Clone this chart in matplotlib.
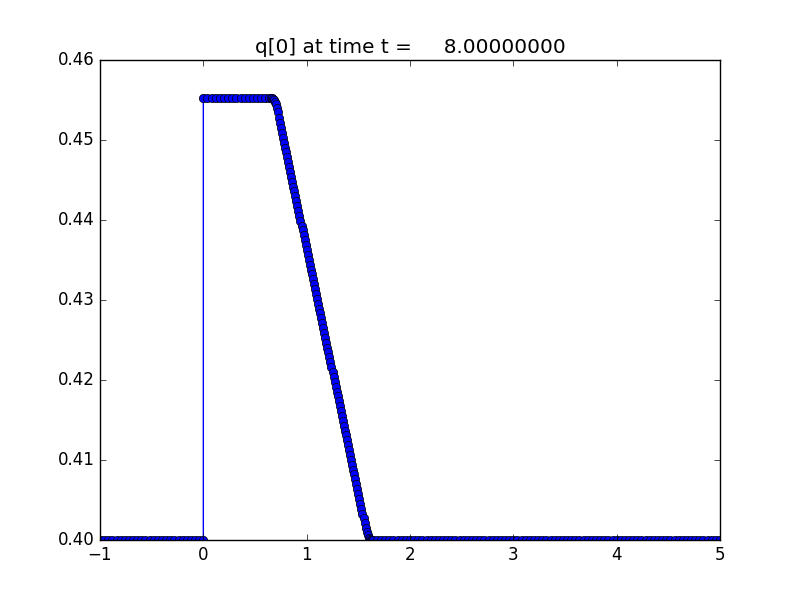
import numpy as np
import matplotlib
matplotlib.use('Agg')
import matplotlib.pyplot as plt

plt.style.use('classic')

# solution values
q_left = 0.4       # state for x < 0 and x past the wave
q_top = 0.4552     # plateau state after the jump at x = 0

# coarse grid (dx = 0.04)
x_left = np.round(np.arange(-1.0, 0.0001, 0.04), 4)
x_plateau = np.round(np.arange(0.0, 0.6401, 0.04), 4)
x_right = np.round(np.arange(1.64, 5.0001, 0.04), 4)

# refined patch over the ramp (dx = 0.01)
x_fine = np.round(np.arange(0.65, 1.6301, 0.01), 4)
q_fine = [
    0.4552, 0.4552, 0.4551, 0.4550, 0.4548, 0.4545, 0.4540, 0.4535, 0.4528, 0.4521,
    0.45150, 0.45089, 0.45028, 0.44967, 0.44906, 0.44845, 0.44784, 0.44723, 0.44662, 0.44601,
    0.44540, 0.44479, 0.44418, 0.44357, 0.44296, 0.44235, 0.44174, 0.44113, 0.44052, 0.43991,
    0.43930, 0.43869, 0.43808, 0.43747, 0.43686, 0.43625, 0.43564, 0.43503, 0.43442, 0.43381,
    0.43320, 0.43259, 0.43198, 0.43137, 0.43076, 0.43015, 0.42954, 0.42893, 0.42832, 0.42771,
    0.42710, 0.42649, 0.42588, 0.42527, 0.42466, 0.42405, 0.42344, 0.42283, 0.42222, 0.42161,
    0.42100, 0.42039, 0.41978, 0.41917, 0.41856, 0.41795, 0.41734, 0.41673, 0.41612, 0.41551,
    0.41490, 0.41429, 0.41368, 0.41307, 0.41246, 0.41185, 0.41124, 0.41063, 0.41002, 0.40941,
    0.40880, 0.40819, 0.40758, 0.40697, 0.40636, 0.40575, 0.40514, 0.40453, 0.40392, 0.40331,
    0.40270, 0.40210, 0.40150, 0.40100, 0.40060, 0.40030, 0.40010, 0.40000, 0.40000,
]

x = np.concatenate([x_left, x_plateau, x_fine, x_right])
q = np.concatenate([np.full(len(x_left), q_left), np.full(len(x_plateau), q_top),
                    q_fine, np.full(len(x_right), q_left)])

t = 8.0
fig = plt.figure(figsize=(8, 6), dpi=100)
ax = fig.add_subplot(1, 1, 1)
ax.plot(x, q, 'o-', color='b', markerfacecolor='b', markersize=6,
        markeredgecolor='k', markeredgewidth=0.5, linewidth=1.0)
ax.set_xlim(-1, 5)
ax.set_ylim(0.40, 0.46)
ax.set_yticks([0.40, 0.41, 0.42, 0.43, 0.44, 0.45, 0.46])
ax.set_title('q[0] at time t = %14.8f' % t)

fig.savefig('out.png', dpi=100, facecolor='white')
